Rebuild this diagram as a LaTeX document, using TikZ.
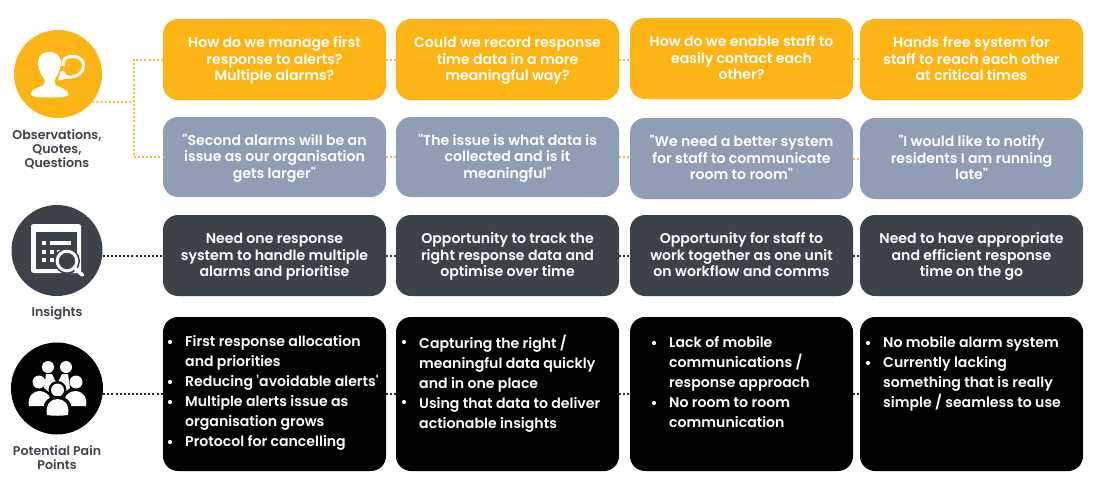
\documentclass[tikz,border=0pt]{standalone}
\usepackage{fontspec}
\setmainfont{Poppins}[BoldFont={Poppins SemiBold},Ligatures=TeXOff]
\definecolor{amber}{HTML}{FDB515}
\definecolor{slate}{HTML}{8F9DB5}
\definecolor{charcoal}{HTML}{3D4249}
\definecolor{labelgrey}{HTML}{3F444B}
\definecolor{dotamber}{HTML}{F5BE3A}
\tikzset{x=1pt,y=-1pt,
 card/.style={rounded corners=15pt,draw=none,inner sep=0pt},
 cardtext/.style={text=white,font=\fontsize{14.1}{16.4}\selectfont\bfseries,align=center,yshift=-1.5pt},
 listtext/.style={text=white,font=\fontsize{14.1}{20}\selectfont\bfseries,align=left,anchor=north west,inner sep=0pt},
 circlabel/.style={text=labelgrey,font=\fontsize{12.6}{14}\selectfont\bfseries,align=center},
 dotlink/.style={line width=2pt,dash pattern=on 2pt off 2.1pt},
 bulletdot/.style={circle,fill=white,inner sep=0pt,minimum size=4.2pt},
}
\newcommand{\boxnode}[7]{% name, x0,y0,x1,y1,color,text
 \node[card,fill=#6,minimum width={(#4-#2)*1pt},minimum height={(#5-#3)*1pt}] (#1) at ({(#2+#4)/2},{(#3+#5)/2}) {};
 \node[cardtext] at (#1.center) {\strut #7\strut};}
\begin{document}
\begin{tikzpicture}
\useasboundingbox (0,0) rectangle (1094,483);
\fill[white] (0,0) rectangle (1094,483);
% rows
\boxnode{a1}{163}{19}{386}{100}{amber}{How do we manage first\\response to alerts?\\Multiple alarms?}
\boxnode{a2}{396}{19}{619}{100}{amber}{Could we record response\\time data in a more\\meaningful way?}
\boxnode{a3}{630}{18}{853}{99}{amber}{How do we enable staff to\\easily contact each\\other?}
\boxnode{a4}{860}{19}{1083}{100}{amber}{Hands free system for\\staff to reach each other\\at critical times}
\boxnode{b1}{163}{117}{386}{197}{slate}{"Second alarms will be an\\issue as our organisation\\gets larger"}
\boxnode{b2}{396}{117}{619}{197}{slate}{"The issue is what data is\\collected and is it\\meaningful"}
\boxnode{b3}{630}{118}{853}{199}{slate}{"We need a better system\\for staff to communicate\\room to room"}
\boxnode{b4}{860}{118}{1083}{199}{slate}{"I would like to notify\\residents I am running\\late"}
\boxnode{c1}{163}{215}{386}{296}{charcoal}{Need one response\\system to handle multiple\\alarms and prioritise}
\boxnode{c2}{396}{215}{619}{296}{charcoal}{Opportunity to track the\\right response data and\\optimise over time}
\boxnode{c3}{630}{215}{853}{296}{charcoal}{Opportunity for staff to\\work together as one unit\\on workflow and comms}
\boxnode{c4}{860}{215}{1083}{296}{charcoal}{Need to have appropriate\\and efficient response\\time on the go}
\foreach \n/\xa/\ya/\xb/\yb in {d1/163/317/386/471,d2/396/317/619/471,d3/630/317/853/471,d4/860/317/1083/471}{
 \node[card,fill=black,minimum width={(\xb-\xa)*1pt},minimum height={(\yb-\ya)*1pt}] (\n) at ({(\xa+\xb)/2},{(\ya+\yb)/2}) {};
}
% circles
\node[circle,fill=amber,minimum size=88pt,inner sep=0pt] (ic1) at (58,74) {};
\node[circle,fill=charcoal,minimum size=91pt,inner sep=0pt] (ic2) at (57,250.5) {};
\node[circle,fill=black,minimum size=92pt,inner sep=0pt] (ic3) at (57,388.5) {};
% connectors
\coordinate (j1) at (133.5,102);
\draw[dotlink,dotamber] (ic1.-39.5) -- (j1);
\draw[dotlink,dotamber] (a1.west) -| (j1) |- (b1.west);
\foreach \p/\q in {a1/a2,a2/a3,a3/a4,b1/b2,b2/b3,b3/b4}{\draw[dotlink,dotamber] (\p.east) -- (\p.east -| \q.west);}
\draw[dotlink,black!85] (ic2.east |- c1.west) -- (c1.west);
\draw[dotlink,black!85] (ic3.east |- d1.west) -- (d1.west);
\foreach \p/\q in {c1/c2,c2/c3,c3/c4,d1/d2,d2/d3,d3/d4}{\draw[dotlink,black!80] (\p.east) -- (\q.west);}
% labels
\node[circlabel] (l1) at (57,149) {Observations,\\Quotes,\\Questions};
\node[circlabel] (l2) at (57,313) {Insights};
\node[circlabel] (l3) at (57,457.5) {Potential Pain\\Points};
% icon 1
\fill[white] (49.5,52) .. controls (35,52) and (36,68) .. (43,77) .. controls (45.5,81) and (45.5,84) .. (43,85.5) .. controls (36,88) and (31,90) .. (31,94) .. controls (31,97) and (37,97.5) .. (50,97.5) .. controls (63,97.5) and (68.5,97) .. (68.5,94) .. controls (68.5,90) and (60,87) .. (56,85.5) .. controls (54,83) and (54.5,81) .. (56,77) .. controls (63,68) and (64,52) .. (49.5,52) -- cycle;
\draw[white,line width=3pt,line join=round] (63.5,66) .. controls (61,58) and (68,56) .. (74,56.5) .. controls (82,57) and (85,63) .. (83,69) .. controls (80,76) and (72,78.5) .. (66,76.5) -- (60,79) -- (62,72);
\fill[white] (58,80) -- (62,70) -- (70,78) -- cycle;
% icon 2
\fill[white,rounded corners=2.5pt] (31,224) rectangle (81,273);
\fill[charcoal] (36,232) rectangle (77,269);
\fill[white] (50,241) rectangle (71,245);
\foreach \yy in {241,250,258}{\fill[white] (42,\yy) rectangle +(4,4);}
\foreach \yy in {250,258}{\fill[white] (50,\yy) rectangle +(3.5,4);}
\fill[white] (57,250) rectangle (66,253);
\fill[charcoal] (67,261) circle (13pt);
\draw[white,line width=3pt] (67,261) circle (9.8pt);
\draw[white,line width=3.6pt,line cap=round] (75,268.5) -- (82.5,275);
% icon 3
\fill[white] (48,367) circle (6pt) (66,367) circle (6pt);
\fill[white] (39,382) circle (6.5pt) (76,382) circle (6.5pt);
\fill[white] (46,374) -- (52,374) -- (57,384) -- (49,392) -- (44,388) -- cycle;
\fill[white] (68,374) -- (62,374) -- (57,384) -- (65,392) -- (70,388) -- cycle;
\fill[white] (29,406) .. controls (27,396) and (34,391) .. (39,391) .. controls (44,391) and (49,394) .. (50,398) .. controls (46,400) and (44,403) .. (44,406) -- cycle;
\fill[white] (86,406) .. controls (88,396) and (81,391) .. (76,391) .. controls (71,391) and (66,394) .. (65,398) .. controls (69,400) and (71,403) .. (71,406) -- cycle;
\fill[black] (57.5,390) circle (9pt);
\fill[white] (57.5,390) circle (6.5pt);
\fill[black] (57.5,408) ellipse (14pt and 12pt);
\fill[white] (47,415) .. controls (45,404) and (51,399) .. (57.5,399) .. controls (64,399) and (70,404) .. (68,415) .. controls (62,416) and (53,416) .. (47,415) -- cycle;
% lists
\node[listtext] (t11) at (185,335) {First response allocation\\and priorities\\Reducing 'avoidable alerts'\\Multiple alerts issue as\\organisation grows\\Protocol for cancelling};
\foreach \yy in {342,382,402,442}{\node[bulletdot] at (170,\yy) {};}
\node[listtext] (t12) at (419,335) {Capturing the right /\\meaningful data quickly\\and in one place\\Using that data to deliver\\actionable insights};
\foreach \yy in {342,402}{\node[bulletdot] at (404,\yy) {};}
\node[listtext] (t13) at (669,336) {Lack of mobile\\communications /\\response approach\\No room to room\\communication};
\foreach \yy in {343,403}{\node[bulletdot] at (654,\yy) {};}
\node[listtext] (t14) at (883,336) {No mobile alarm system\\Currently lacking\\something that is really\\simple / seamless to use};
\foreach \yy in {343,363}{\node[bulletdot] at (868,\yy) {};}
\end{tikzpicture}
\end{document}
